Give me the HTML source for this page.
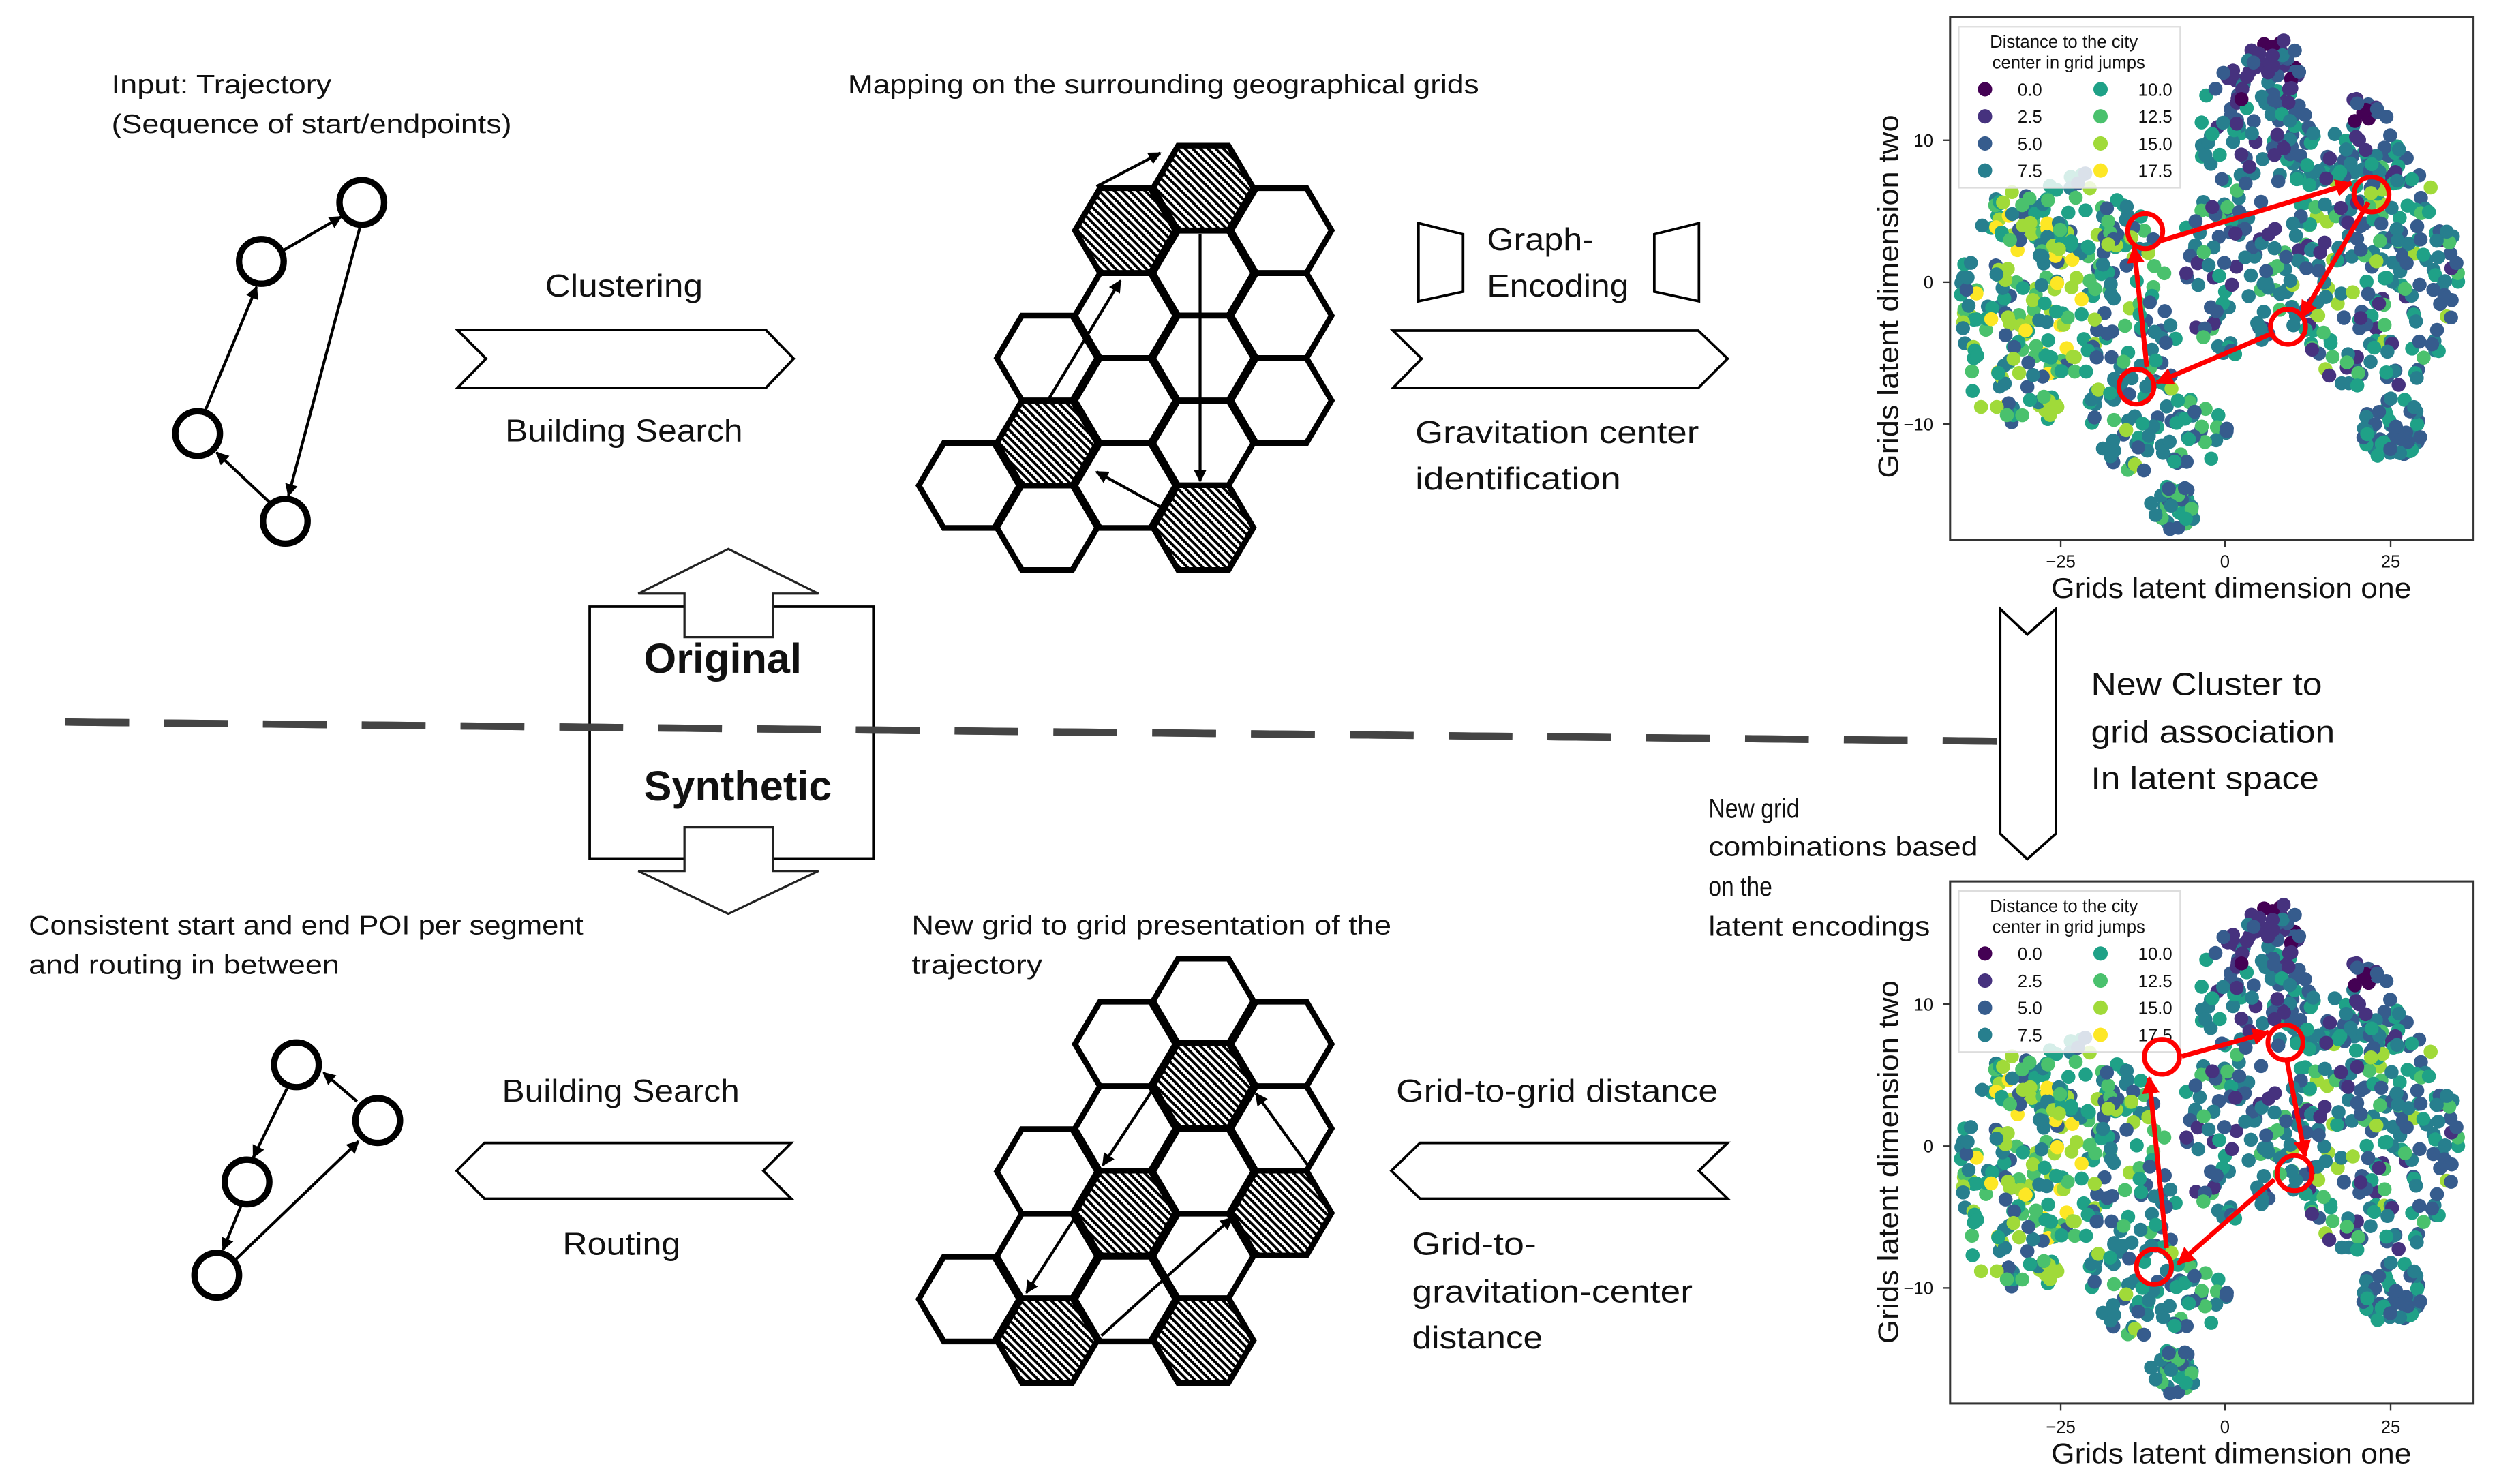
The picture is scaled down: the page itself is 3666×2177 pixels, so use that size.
<!DOCTYPE html>
<html><head><meta charset="utf-8"><style>
html,body{margin:0;padding:0;background:#fff;}
svg{display:block;}
text{font-family:"Liberation Sans",sans-serif;fill:#111;}
</style></head><body>
<svg id="s" width="3666" height="2177" viewBox="0 0 1568 931" preserveAspectRatio="none" xmlns="http://www.w3.org/2000/svg">
<defs>
<pattern id="hatch" patternUnits="userSpaceOnUse" width="3.4" height="3.4" patternTransform="rotate(45)">
<rect x="0" y="0" width="3.4" height="3.4" fill="#fff"/>
<rect x="0" y="0" width="3.4" height="1.7" fill="#000"/>
</pattern>
<polygon id="hx" points="-31.5,0 -15.8,-26.6 15.8,-26.6 31.5,0 15.8,26.6 -15.8,26.6"/>
<marker id="ah" viewBox="0 0 10 10" refX="9" refY="5" markerWidth="8" markerHeight="8" markerUnits="userSpaceOnUse" orient="auto"><path d="M0,0 L10,5 L0,10 z" fill="#000"/></marker>
<marker id="rh" viewBox="0 0 10 10" refX="9" refY="5" markerWidth="11" markerHeight="11" markerUnits="userSpaceOnUse" orient="auto"><path d="M0,0 L10,5 L0,10 z" fill="#f00"/></marker>
<clipPath id="pc"><rect x="0" y="0" width="328" height="327"/></clipPath>
</defs>
<rect width="1568" height="931" fill="#fff"/>

<line x1="41" y1="453" x2="1253" y2="465" stroke="#444" stroke-width="4.5" stroke-dasharray="40,22"/>

<text x="70" y="58.5" font-size="16.5" textLength="138" lengthAdjust="spacingAndGlyphs">Input: Trajectory</text>
<text x="70" y="83.5" font-size="16.5" textLength="251" lengthAdjust="spacingAndGlyphs">(Sequence of start/endpoints)</text>

<g fill="#fff" stroke="#000" stroke-width="4">
<circle cx="227" cy="127" r="14"/><circle cx="164" cy="164" r="14"/><circle cx="124" cy="272" r="14"/><circle cx="179" cy="327" r="14"/>
</g>
<g stroke="#000" stroke-width="1.8" marker-end="url(#ah)">
<line x1="178" y1="157" x2="214" y2="136"/>
<line x1="129" y1="257" x2="161" y2="180"/>
<line x1="226" y1="142" x2="181" y2="311"/>
<line x1="169" y1="315" x2="136" y2="284"/>
</g>

<g fill="#fff" stroke="#000" stroke-width="1.6">
<polygon points="287,207 480.5,207 498,225 480.5,243.4 287,243.4 305,225"/>
<polygon points="874,207.4 1065.6,207.4 1084,225 1065.6,243.4 874,243.4 892,225"/>
<polygon points="286.5,734.5 304,717 496.5,717 479,734.5 496.5,752 304,752"/>
<polygon points="873,734.5 891,717 1084,717 1066,734.5 1084,752 891,752"/>
<polygon points="890,140 918,147 918,183 890,189"/>
<polygon points="1038,147 1066,140 1066,189 1038,183"/>
<polygon points="1255,382 1272,398 1290,382 1290,523 1272,539 1255,523"/>
</g>

<text x="342" y="186" font-size="20" textLength="99" lengthAdjust="spacingAndGlyphs">Clustering</text>
<text x="317" y="277" font-size="20" textLength="149" lengthAdjust="spacingAndGlyphs">Building Search</text>
<text x="532" y="58.5" font-size="16.5" textLength="396" lengthAdjust="spacingAndGlyphs">Mapping on the surrounding geographical grids</text>
<text x="933" y="157" font-size="20" textLength="67" lengthAdjust="spacingAndGlyphs">Graph-</text>
<text x="933" y="186" font-size="20" textLength="89" lengthAdjust="spacingAndGlyphs">Encoding</text>
<text x="888" y="278" font-size="20" textLength="178" lengthAdjust="spacingAndGlyphs">Gravitation center</text>
<text x="888" y="307" font-size="20" textLength="129" lengthAdjust="spacingAndGlyphs">identification</text>
<text x="1312" y="436" font-size="20" textLength="145" lengthAdjust="spacingAndGlyphs">New Cluster to</text>
<text x="1312" y="466" font-size="20" textLength="153" lengthAdjust="spacingAndGlyphs">grid association</text>
<text x="1312" y="495" font-size="20" textLength="143" lengthAdjust="spacingAndGlyphs">In latent space</text>
<text x="1072" y="513" font-size="17" textLength="57" lengthAdjust="spacingAndGlyphs">New grid</text>
<text x="1072" y="537" font-size="17" textLength="169" lengthAdjust="spacingAndGlyphs">combinations based</text>
<text x="1072" y="562" font-size="17" textLength="40" lengthAdjust="spacingAndGlyphs">on the</text>
<text x="1072" y="587" font-size="17" textLength="139" lengthAdjust="spacingAndGlyphs">latent encodings</text>
<text x="18" y="586" font-size="16.5" textLength="348" lengthAdjust="spacingAndGlyphs">Consistent start and end POI per segment</text>
<text x="18" y="611" font-size="16.5" textLength="195" lengthAdjust="spacingAndGlyphs">and routing in between</text>
<text x="572" y="586" font-size="16.5" textLength="301" lengthAdjust="spacingAndGlyphs">New grid to grid presentation of the</text>
<text x="572" y="611" font-size="16.5" textLength="82" lengthAdjust="spacingAndGlyphs">trajectory</text>
<text x="315" y="691" font-size="20" textLength="149" lengthAdjust="spacingAndGlyphs">Building Search</text>
<text x="353" y="787" font-size="20" textLength="74" lengthAdjust="spacingAndGlyphs">Routing</text>
<text x="876" y="691" font-size="20" textLength="202" lengthAdjust="spacingAndGlyphs">Grid-to-grid distance</text>
<text x="886" y="787" font-size="20" textLength="78" lengthAdjust="spacingAndGlyphs">Grid-to-</text>
<text x="886" y="817" font-size="20" textLength="176" lengthAdjust="spacingAndGlyphs">gravitation-center</text>
<text x="886" y="846" font-size="20" textLength="82" lengthAdjust="spacingAndGlyphs">distance</text>

<rect x="370" y="380.6" width="178" height="158" fill="none" stroke="#000" stroke-width="1.6"/>
<line x1="41" y1="453" x2="1253" y2="465" stroke="#444" stroke-width="4.5" stroke-dasharray="40,22"/>
<polygon points="457,344.4 513.5,372.4 485,372.4 485,399.7 429.5,399.7 429.5,372.4 400.5,372.4" fill="#fff" stroke="#222" stroke-width="1.4"/>
<polygon points="457,573.3 513.5,546.4 485,546.4 485,519 429.5,519 429.5,546.4 400.5,546.4" fill="#fff" stroke="#222" stroke-width="1.4"/>
<text x="404" y="422" font-size="26" font-weight="bold" textLength="99" lengthAdjust="spacingAndGlyphs">Original</text>
<text x="404" y="502" font-size="26" font-weight="bold" textLength="118" lengthAdjust="spacingAndGlyphs">Synthetic</text>

<g fill="#fff" stroke="#000" stroke-width="4">
<circle cx="186" cy="668" r="14"/><circle cx="237" cy="703" r="14"/><circle cx="155" cy="741.5" r="14"/><circle cx="136" cy="800" r="14"/>
</g>
<g stroke="#000" stroke-width="1.8" marker-end="url(#ah)">
<line x1="224" y1="691" x2="203" y2="673"/>
<line x1="180" y1="683" x2="159" y2="726"/>
<line x1="151" y1="757" x2="140" y2="784"/>
<line x1="148" y1="790" x2="225" y2="716"/>
</g>

<g fill="#fff" stroke="#000" stroke-width="3.6">
<use href="#hx" x="608" y="304.6"/>
<use href="#hx" x="657" y="224.6"/><use href="#hx" x="657" y="331"/>
<use href="#hx" x="706" y="198"/><use href="#hx" x="706" y="251.3"/><use href="#hx" x="706" y="304.6"/>
<use href="#hx" x="755" y="171.3"/><use href="#hx" x="755" y="224.6"/><use href="#hx" x="755" y="278"/>
<use href="#hx" x="804" y="144.6"/><use href="#hx" x="804" y="198"/><use href="#hx" x="804" y="251.3"/>
</g>
<g fill="url(#hatch)" stroke="#000" stroke-width="3.6">
<use href="#hx" x="657" y="278"/><use href="#hx" x="706" y="144.6"/><use href="#hx" x="755" y="118"/><use href="#hx" x="755" y="331"/>
</g>
<g stroke="#000" stroke-width="1.8" marker-end="url(#ah)">
<line x1="657" y1="252" x2="703" y2="176"/>
<line x1="688" y1="117" x2="728" y2="96"/>
<line x1="753" y1="147" x2="753" y2="302"/>
<line x1="728" y1="318" x2="688" y2="296"/>
</g>

<g fill="#fff" stroke="#000" stroke-width="3.6">
<use href="#hx" x="608" y="815"/>
<use href="#hx" x="657" y="735"/><use href="#hx" x="657" y="788"/>
<use href="#hx" x="706" y="655"/><use href="#hx" x="706" y="708"/><use href="#hx" x="706" y="815"/>
<use href="#hx" x="755" y="628"/><use href="#hx" x="755" y="735"/><use href="#hx" x="755" y="788"/>
<use href="#hx" x="804" y="655"/><use href="#hx" x="804" y="708"/>
</g>
<g fill="url(#hatch)" stroke="#000" stroke-width="3.6">
<use href="#hx" x="755" y="681"/><use href="#hx" x="706" y="761"/><use href="#hx" x="804" y="761"/><use href="#hx" x="657" y="841"/><use href="#hx" x="755" y="841"/>
</g>
<g stroke="#000" stroke-width="1.8" marker-end="url(#ah)">
<line x1="723" y1="684" x2="692" y2="731"/>
<line x1="675" y1="763" x2="644" y2="811"/>
<line x1="691" y1="838" x2="773" y2="764"/>
<line x1="822" y1="733" x2="788" y2="686"/>
</g>

<g transform="translate(1223.6,10.8)">
<g clip-path="url(#pc)" id="pts1"></g>
<rect x="0" y="0" width="328.4" height="327.7" fill="none" stroke="#333" stroke-width="1.3"/>
</g>
<g transform="translate(1223.6,553)">
<g clip-path="url(#pc)" id="pts2"></g>
<rect x="0" y="0" width="328.4" height="327.5" fill="none" stroke="#333" stroke-width="1.3"/>
</g>

<g font-size="11" fill="#222">
<text x="1213" y="92" text-anchor="end">10</text><text x="1213" y="181" text-anchor="end">0</text><text x="1213" y="270" text-anchor="end">−10</text>
<text x="1293" y="356" text-anchor="middle">−25</text><text x="1396" y="356" text-anchor="middle">0</text><text x="1500" y="356" text-anchor="middle">25</text>
<text x="1213" y="634" text-anchor="end">10</text><text x="1213" y="723" text-anchor="end">0</text><text x="1213" y="812" text-anchor="end">−10</text>
<text x="1293" y="899" text-anchor="middle">−25</text><text x="1396" y="899" text-anchor="middle">0</text><text x="1500" y="899" text-anchor="middle">25</text>
</g>
<g stroke="#333" stroke-width="1">
<line x1="1219" y1="88" x2="1223.6" y2="88"/><line x1="1219" y1="177" x2="1223.6" y2="177"/><line x1="1219" y1="266" x2="1223.6" y2="266"/>
<line x1="1293" y1="338.5" x2="1293" y2="343"/><line x1="1396" y1="338.5" x2="1396" y2="343"/><line x1="1500" y1="338.5" x2="1500" y2="343"/>
<line x1="1219" y1="630" x2="1223.6" y2="630"/><line x1="1219" y1="719" x2="1223.6" y2="719"/><line x1="1219" y1="808" x2="1223.6" y2="808"/>
<line x1="1293" y1="880.5" x2="1293" y2="885"/><line x1="1396" y1="880.5" x2="1396" y2="885"/><line x1="1500" y1="880.5" x2="1500" y2="885"/>
</g>
<text x="1287" y="375" font-size="18" textLength="226" lengthAdjust="spacingAndGlyphs">Grids latent dimension one</text>
<text x="1287" y="918" font-size="18" textLength="226" lengthAdjust="spacingAndGlyphs">Grids latent dimension one</text>
<text transform="translate(1191,300) rotate(-90)" x="0" y="0" font-size="18" textLength="228" lengthAdjust="spacingAndGlyphs">Grids latent dimension two</text>
<text transform="translate(1191,843) rotate(-90)" x="0" y="0" font-size="18" textLength="228" lengthAdjust="spacingAndGlyphs">Grids latent dimension two</text>

<g id="leg1">
<rect x="1229" y="16.8" width="139" height="101" fill="#fff" fill-opacity="0.82" stroke="#ddd" stroke-width="1"/>
<text x="1295" y="30" font-size="11" text-anchor="middle" fill="#222">Distance to the city</text>
<text x="1298" y="43" font-size="11" text-anchor="middle" fill="#222">center in grid jumps</text>
<g font-size="11" fill="#222">
<circle cx="1245.5" cy="56" r="4.5" fill="#440154"/><text x="1266" y="60">0.0</text>
<circle cx="1245.5" cy="73" r="4.5" fill="#46327e"/><text x="1266" y="77">2.5</text>
<circle cx="1245.5" cy="90" r="4.5" fill="#365c8d"/><text x="1266" y="94">5.0</text>
<circle cx="1245.5" cy="107" r="4.5" fill="#277f8e"/><text x="1266" y="111">7.5</text>
<circle cx="1318" cy="56" r="4.5" fill="#1fa187"/><text x="1363" y="60" text-anchor="end">10.0</text>
<circle cx="1318" cy="73" r="4.5" fill="#4ac16d"/><text x="1363" y="77" text-anchor="end">12.5</text>
<circle cx="1318" cy="90" r="4.5" fill="#a0da39"/><text x="1363" y="94" text-anchor="end">15.0</text>
<circle cx="1318" cy="107" r="4.5" fill="#fde725"/><text x="1363" y="111" text-anchor="end">17.5</text>
</g>
</g>
<use href="#leg1" x="0" y="542.2"/>

<g fill="none" stroke="#f00" stroke-width="3">
<circle cx="1346" cy="145" r="11"/><circle cx="1488" cy="122" r="11"/><circle cx="1435.6" cy="205" r="11"/><circle cx="1340.5" cy="242.5" r="11"/>
<circle cx="1356.5" cy="663" r="11"/><circle cx="1434" cy="654" r="11"/><circle cx="1439.7" cy="736" r="11"/><circle cx="1351.5" cy="794.8" r="11"/>
</g>
<g stroke="#f00" stroke-width="3" marker-end="url(#rh)">
<line x1="1356" y1="151" x2="1475.5" y2="115"/>
<line x1="1486" y1="127" x2="1444" y2="199"/>
<line x1="1426" y1="209" x2="1353.4" y2="240"/>
<line x1="1347" y1="230" x2="1339" y2="155"/>
<line x1="1369" y1="662.7" x2="1423.5" y2="647.6"/>
<line x1="1435" y1="665.6" x2="1446.4" y2="725.6"/>
<line x1="1427" y1="740" x2="1366.7" y2="792.8"/>
<line x1="1359.4" y1="783" x2="1348.5" y2="676"/>
</g>
</svg>
<script>
(function(){
var pal=["#440154","#46327e","#365c8d","#277f8e","#1fa187","#4ac16d","#a0da39","#fde725"];
var seed=98765;function r(){seed=(seed*1103515245+12345)%2147483648;return seed/2147483648;}
/* [cx,cy,rx,ry,n,colors] in plot-relative coords */
var cl=[
[200,35,30,22,45,[0,1,1,2,2,1,3]],
[262,58,14,9,12,[0,1,1,2]],
[45,185,40,78,190,[3,4,5,6,7,4,5,3,6,2,4]],
[113,205,30,85,130,[2,3,4,5,3,2,4,6,3]],
[140,308,17,14,35,[3,4,2,3,5]],
[180,160,38,55,95,[2,3,4,5,2,3,1,3]],
[265,160,55,78,230,[3,4,2,5,6,3,4,1,2,3]],
[277,258,19,20,55,[2,3,4,2,3]],
[190,72,40,35,70,[1,2,3,4,2,3]],
[245,88,45,22,60,[1,2,3,2,4,3]],
[78,125,35,28,50,[4,5,6,3,2,4]],
[150,260,25,22,35,[3,4,2,5]]
];
var pts=[];
cl.forEach(function(c){for(var i=0;i<c[4];i++){var a=r()*Math.PI*2,d=Math.sqrt(r());var x=c[0]+Math.cos(a)*d*c[2],y=c[1]+Math.sin(a)*d*c[3];var col=c[5][Math.floor(r()*c[5].length)];pts.push([x,y,col,r()]);}});
pts.sort(function(a,b){return a[3]-b[3];});
var ns="http://www.w3.org/2000/svg";
["pts1","pts2"].forEach(function(id){var el=document.getElementById(id);
pts.forEach(function(p){var c=document.createElementNS(ns,"circle");c.setAttribute("cx",p[0].toFixed(1));c.setAttribute("cy",p[1].toFixed(1));c.setAttribute("r","4.4");c.setAttribute("fill",pal[p[2]]);el.appendChild(c);});});
})();
</script>
</body></html>
